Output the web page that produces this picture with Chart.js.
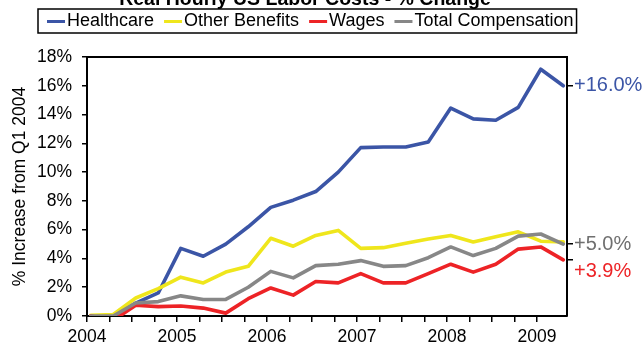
<!DOCTYPE html>
<html lang="en">
<head>
    <meta charset="UTF-8">
    <title>Real Hourly US Labor Costs - % Change</title>
    <script src="https://cdn.jsdelivr.net/npm/chart.js"></script>
    <style>
        html, body { margin: 0; padding: 0; background: #fff; }
        #chart-container { width: 644px; height: 343px; }
    </style>
</head>
<body>

<div id="chart-container">
    <canvas id="costChart"></canvas>
</div>

<script>
    const chartTitle = 'Real Hourly US Labor Costs - % Change';
    const yAxisTitle = '% Increase from Q1 2004';

    // one observation per quarter, Q1 2004 to Q2 2009
    const quarters = [
        '2004 Q1', '2004 Q2', '2004 Q3', '2004 Q4',
        '2005 Q1', '2005 Q2', '2005 Q3', '2005 Q4',
        '2006 Q1', '2006 Q2', '2006 Q3', '2006 Q4',
        '2007 Q1', '2007 Q2', '2007 Q3', '2007 Q4',
        '2008 Q1', '2008 Q2', '2008 Q3', '2008 Q4',
        '2009 Q1', '2009 Q2'
    ];

    const healthcare        = [0, 0, 0.9, 1.6, 4.7, 4.15, 5.0, 6.2, 7.55, 8.05, 8.65, 10.0, 11.7, 11.75, 11.75, 12.1, 14.45, 13.7, 13.6, 14.5, 17.15, 16.0];
    const otherBenefits     = [0.05, 0.1, 1.25, 1.9, 2.7, 2.3, 3.05, 3.45, 5.4, 4.85, 5.6, 5.95, 4.7, 4.75, 5.05, 5.35, 5.6, 5.15, 5.5, 5.85, 5.2, 5.15];
    const wages             = [0, -0.3, 0.75, 0.65, 0.7, 0.55, 0.2, 1.2, 1.95, 1.45, 2.4, 2.3, 2.95, 2.3, 2.3, 2.95, 3.6, 3.05, 3.6, 4.65, 4.8, 3.9];
    const totalCompensation = [0, 0, 0.9, 1.0, 1.4, 1.15, 1.15, 2.0, 3.1, 2.65, 3.5, 3.6, 3.85, 3.45, 3.5, 4.05, 4.8, 4.2, 4.7, 5.55, 5.7, 5.0];

    const seriesNames  = ['Healthcare', 'Other Benefits', 'Wages', 'Total Compensation'];
    const seriesValues = [healthcare, otherBenefits, wages, totalCompensation];
    const seriesColors = ['#3b55a6', '#efe61c', '#ed2326', '#878787'];

    // right hand axis: latest value of three of the series
    const endValues = [16.0, 5.0, 3.9];
    const endLabels = ['+16.0%', '+5.0%', '+3.9%'];
    const endColors = ['#3b55a6', '#6f6f6f', '#ed2326'];

    const fontFamily = '"Liberation Sans", Arial, sans-serif';

    // quarter -> fractional year, placed in the middle of the quarter's first month
    const quarterX = quarters.map(q => {
        const [year, qtr] = q.split(' Q');
        return Number(year) + (Number(qtr) - 1) / 4 + 1 / 24;
    });

    const datasets = seriesNames.map((name, i) => ({
        label: name,
        data: seriesValues[i].map((v, j) => ({ x: quarterX[j], y: v })),
        borderColor: seriesColors[i],
        backgroundColor: seriesColors[i],
        borderWidth: 3.6,
        borderJoinStyle: 'round',
        borderCapStyle: 'round',
        pointRadius: 0,
        tension: 0,
        order: seriesNames.length - i   // later series drawn on top
    }));

    // title (mostly cut off by the top edge), boxed legend and top edge of the plot
    const framePlugin = {
        id: 'frame',
        afterDraw(chart) {
            const { ctx, chartArea: area } = chart;
            ctx.save();

            ctx.strokeStyle = '#000';
            ctx.lineWidth = 2;
            ctx.beginPath();
            ctx.moveTo(area.left - 1, area.top);
            ctx.lineTo(area.right + 1, area.top);
            ctx.stroke();

            ctx.fillStyle = '#000';
            ctx.font = 'bold 19.5px ' + fontFamily;
            ctx.textAlign = 'center';
            ctx.textBaseline = 'alphabetic';
            ctx.fillText(chartTitle, 305, 5);

            // legend
            ctx.font = '18px ' + fontFamily;
            ctx.textAlign = 'left';
            ctx.textBaseline = 'middle';
            const boxLeft = 38, boxTop = 9, boxBottom = 33;
            const midY = (boxTop + boxBottom) / 2 + 0.5;
            let x = boxLeft + 9;
            seriesNames.forEach((name, i) => {
                ctx.strokeStyle = seriesColors[i];
                ctx.lineWidth = 3;
                ctx.beginPath();
                ctx.moveTo(x, midY);
                ctx.lineTo(x + 18, midY);
                ctx.stroke();
                x += 20;
                ctx.fillStyle = '#000';
                ctx.fillText(name, x, midY);
                x += ctx.measureText(name).width + 10;
            });
            ctx.strokeStyle = '#000';
            ctx.lineWidth = 1.5;
            ctx.strokeRect(boxLeft, boxTop, x - 10 + 3 - boxLeft, boxBottom - boxTop);

            ctx.restore();
        }
    };

    const ctx = document.getElementById('costChart').getContext('2d');
    const costChart = new Chart(ctx, {
        type: 'line',
        data: { datasets: datasets },
        plugins: [framePlugin],
        options: {
            responsive: true,
            maintainAspectRatio: false,
            animation: false,
            layout: { padding: { top: 57, left: 0, right: 0, bottom: 0 } },
            plugins: {
                legend: { display: false },
                tooltip: { enabled: false }
            },
            scales: {
                x: {
                    type: 'linear',
                    min: 2004,
                    max: 2009 + 1 / 3,
                    bounds: 'data',
                    afterBuildTicks: axis => {
                        axis.ticks = axis.ticks.filter(t => t.value < axis.max - 0.01);
                    },
                    afterFit: axis => { axis.height = 27; },
                    ticks: {
                        stepSize: 0.25,
                        autoSkip: false,
                        maxRotation: 0,
                        padding: 5,
                        color: '#000',
                        font: { size: 17.5, family: fontFamily },
                        callback: v => Number.isInteger(v) ? String(v) : ''
                    },
                    grid: { drawOnChartArea: false, tickLength: 6, color: '#000', lineWidth: 1.5 },
                    border: { color: '#000', width: 2 }
                },
                y: {
                    position: 'left',
                    min: 0,
                    max: 18,
                    afterFit: axis => { axis.width = 87; },
                    ticks: {
                        stepSize: 2,
                        padding: 10,
                        color: '#000',
                        font: { size: 17.5, family: fontFamily },
                        callback: v => v + '%'
                    },
                    title: {
                        display: true,
                        text: yAxisTitle,
                        color: '#000',
                        font: { size: 17.5, family: fontFamily },
                        padding: { top: 10, bottom: 0 }
                    },
                    grid: { drawOnChartArea: false, tickLength: 5, color: '#000', lineWidth: 1.5 },
                    border: { color: '#000', width: 2 }
                },
                yEnd: {
                    position: 'right',
                    min: 0,
                    max: 18,
                    afterBuildTicks: axis => {
                        axis.ticks = endValues.map(v => ({ value: v }));
                    },
                    afterFit: axis => { axis.width = 77; },
                    ticks: {
                        autoSkip: false,
                        padding: 1,
                        color: c => endColors[c.index],
                        font: { size: 20, family: fontFamily },
                        // the lowest label sits a little below its tick so it clears +5.0%
                        callback: (v, i) => i === 2 ? ['', endLabels[i]] : endLabels[i]
                    },
                    grid: { drawOnChartArea: false, tickLength: 6, color: '#000', lineWidth: 1.5 },
                    border: { color: '#000', width: 2 }
                }
            }
        }
    });
</script>

</body>
</html>
